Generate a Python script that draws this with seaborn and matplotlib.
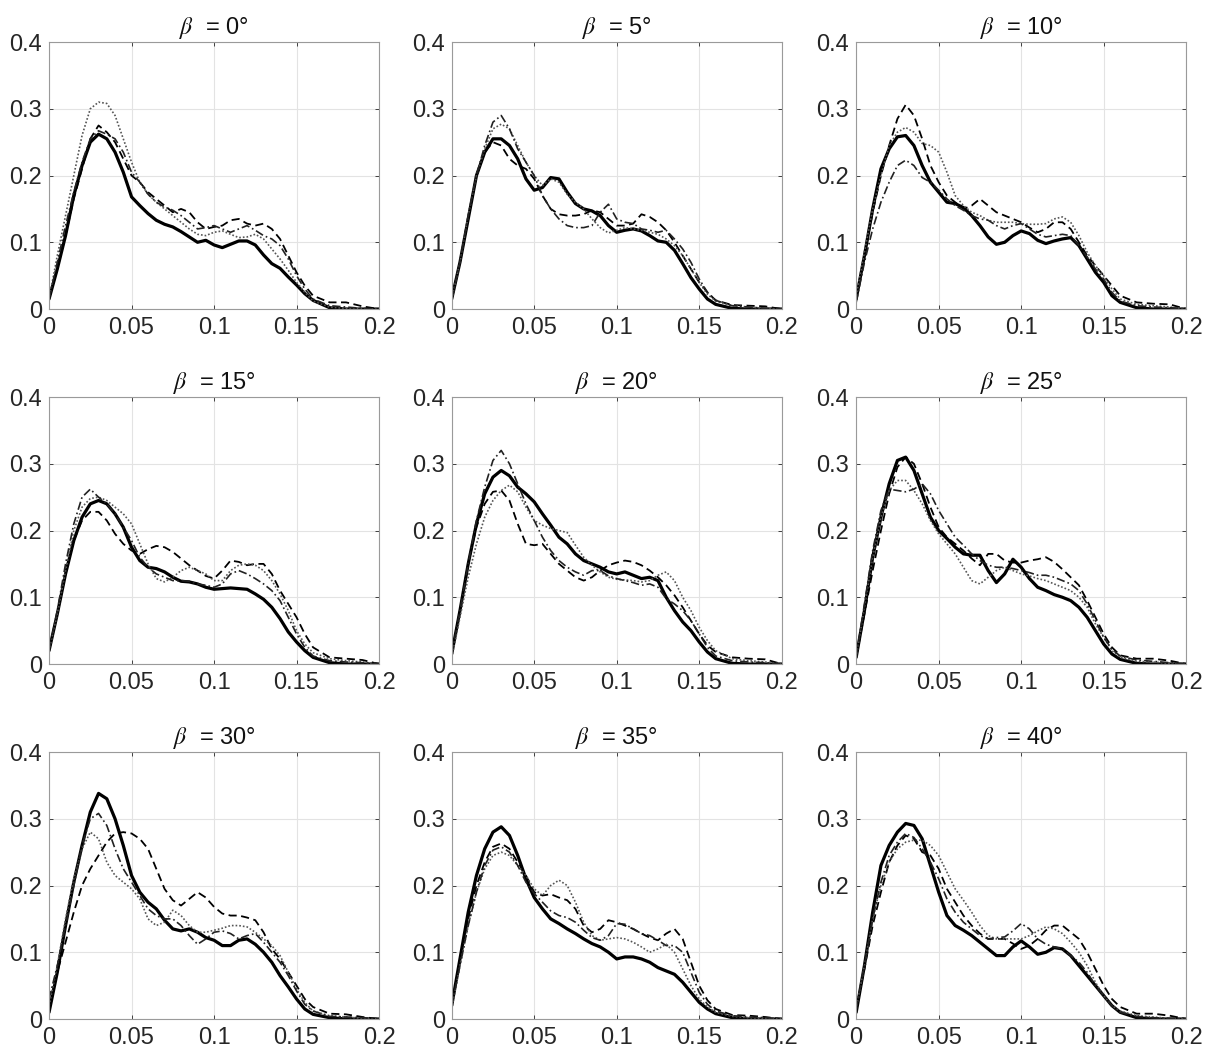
import numpy as np
import pandas as pd
import matplotlib
matplotlib.use("Agg")
import matplotlib.pyplot as plt
import seaborn as sns

# eixo x comum a todas as curvas
x = [0.0, 0.005, 0.01, 0.015, 0.02, 0.025, 0.03, 0.035, 0.04, 0.045,
     0.05, 0.055, 0.06, 0.065, 0.07, 0.075, 0.08, 0.085, 0.09, 0.095,
     0.1, 0.105, 0.11, 0.115, 0.12, 0.125, 0.13, 0.135, 0.14, 0.145,
     0.15, 0.155, 0.16, 0.17, 0.18, 0.19, 0.2]

angulos = [0, 5, 10, 15, 20, 25, 30, 35, 40]

# beta = 0
b0_solid = [0.015, 0.06, 0.11, 0.17, 0.215, 0.25, 0.262, 0.255, 0.235, 0.205, 0.168, 0.155, 0.143, 0.133, 0.127, 0.123, 0.116, 0.108, 0.100, 0.103, 0.096, 0.092, 0.097, 0.102, 0.102, 0.096, 0.081, 0.068, 0.061, 0.048, 0.036, 0.023, 0.013, 0.002, 0.0, 0.0, 0.0]
b0_dash = [0.015, 0.06, 0.11, 0.165, 0.21, 0.255, 0.275, 0.265, 0.25, 0.225, 0.2, 0.19, 0.175, 0.165, 0.155, 0.145, 0.15, 0.145, 0.13, 0.12, 0.123, 0.125, 0.133, 0.135, 0.128, 0.125, 0.128, 0.12, 0.105, 0.08, 0.055, 0.035, 0.02, 0.01, 0.01, 0.004, 0.0]
b0_dot = [0.015, 0.08, 0.14, 0.2, 0.26, 0.3, 0.31, 0.308, 0.29, 0.255, 0.22, 0.19, 0.172, 0.16, 0.15, 0.14, 0.13, 0.12, 0.112, 0.11, 0.115, 0.117, 0.112, 0.107, 0.108, 0.112, 0.105, 0.09, 0.075, 0.058, 0.04, 0.025, 0.012, 0.003, 0.001, 0.0, 0.0]
b0_dashdot = [0.015, 0.07, 0.125, 0.175, 0.22, 0.255, 0.267, 0.262, 0.255, 0.235, 0.205, 0.19, 0.172, 0.16, 0.153, 0.148, 0.14, 0.13, 0.12, 0.122, 0.125, 0.12, 0.115, 0.12, 0.125, 0.118, 0.11, 0.105, 0.095, 0.075, 0.05, 0.03, 0.015, 0.005, 0.003, 0.001, 0.0]

# beta = 5
b5_solid = [0.015, 0.07, 0.135, 0.2, 0.235, 0.255, 0.255, 0.245, 0.225, 0.195, 0.178, 0.182, 0.197, 0.195, 0.175, 0.158, 0.15, 0.147, 0.14, 0.125, 0.115, 0.118, 0.12, 0.117, 0.11, 0.102, 0.1, 0.088, 0.068, 0.047, 0.03, 0.015, 0.007, 0.001, 0.0, 0.0, 0.0]
b5_dash = [0.015, 0.07, 0.135, 0.2, 0.235, 0.25, 0.245, 0.225, 0.215, 0.21, 0.195, 0.17, 0.15, 0.142, 0.14, 0.14, 0.142, 0.148, 0.145, 0.135, 0.125, 0.125, 0.128, 0.142, 0.138, 0.13, 0.118, 0.1, 0.08, 0.06, 0.04, 0.025, 0.013, 0.006, 0.005, 0.004, 0.0]
b5_dot = [0.015, 0.07, 0.14, 0.2, 0.24, 0.27, 0.277, 0.27, 0.245, 0.22, 0.2, 0.185, 0.195, 0.19, 0.172, 0.16, 0.15, 0.135, 0.122, 0.114, 0.118, 0.122, 0.12, 0.118, 0.115, 0.112, 0.105, 0.095, 0.08, 0.06, 0.04, 0.022, 0.012, 0.005, 0.003, 0.001, 0.0]
b5_dashdot = [0.015, 0.07, 0.14, 0.2, 0.245, 0.28, 0.29, 0.27, 0.24, 0.22, 0.2, 0.17, 0.15, 0.135, 0.125, 0.122, 0.122, 0.125, 0.145, 0.157, 0.135, 0.13, 0.128, 0.12, 0.118, 0.115, 0.118, 0.105, 0.09, 0.07, 0.045, 0.025, 0.013, 0.005, 0.003, 0.001, 0.0]

# beta = 10
b10_solid = [0.015, 0.08, 0.15, 0.21, 0.24, 0.258, 0.26, 0.245, 0.215, 0.19, 0.175, 0.16, 0.158, 0.152, 0.14, 0.125, 0.108, 0.097, 0.1, 0.11, 0.117, 0.113, 0.103, 0.098, 0.102, 0.105, 0.107, 0.095, 0.075, 0.055, 0.04, 0.02, 0.01, 0.002, 0.0, 0.0, 0.0]
b10_dash = [0.02, 0.08, 0.145, 0.2, 0.245, 0.285, 0.306, 0.29, 0.255, 0.215, 0.19, 0.17, 0.16, 0.15, 0.155, 0.165, 0.155, 0.145, 0.14, 0.135, 0.13, 0.122, 0.115, 0.12, 0.13, 0.13, 0.12, 0.1, 0.08, 0.065, 0.05, 0.035, 0.02, 0.01, 0.008, 0.007, 0.0]
b10_dot = [0.02, 0.085, 0.15, 0.2, 0.245, 0.265, 0.272, 0.265, 0.248, 0.245, 0.235, 0.205, 0.17, 0.155, 0.145, 0.14, 0.133, 0.13, 0.13, 0.13, 0.128, 0.127, 0.127, 0.128, 0.135, 0.138, 0.13, 0.11, 0.085, 0.065, 0.05, 0.03, 0.015, 0.007, 0.005, 0.003, 0.0]
b10_dashdot = [0.01, 0.07, 0.12, 0.16, 0.19, 0.215, 0.223, 0.215, 0.197, 0.19, 0.178, 0.165, 0.155, 0.148, 0.14, 0.135, 0.133, 0.125, 0.12, 0.125, 0.128, 0.12, 0.112, 0.108, 0.11, 0.112, 0.11, 0.095, 0.078, 0.06, 0.045, 0.025, 0.012, 0.005, 0.003, 0.002, 0.0]

# beta = 15
b15_solid = [0.02, 0.075, 0.135, 0.185, 0.22, 0.24, 0.245, 0.24, 0.225, 0.205, 0.175, 0.155, 0.145, 0.143, 0.138, 0.13, 0.124, 0.123, 0.12, 0.115, 0.112, 0.113, 0.114, 0.113, 0.112, 0.105, 0.097, 0.085, 0.068, 0.048, 0.033, 0.02, 0.01, 0.002, 0.0, 0.0, 0.0]
b15_dash = [0.02, 0.075, 0.135, 0.185, 0.215, 0.228, 0.228, 0.215, 0.195, 0.18, 0.17, 0.165, 0.172, 0.177, 0.175, 0.168, 0.158, 0.148, 0.14, 0.132, 0.128, 0.14, 0.155, 0.153, 0.148, 0.15, 0.15, 0.135, 0.11, 0.09, 0.07, 0.045, 0.025, 0.01, 0.008, 0.006, 0.0]
b15_dot = [0.02, 0.075, 0.14, 0.2, 0.235, 0.248, 0.25, 0.245, 0.235, 0.225, 0.21, 0.18, 0.15, 0.128, 0.123, 0.13, 0.14, 0.145, 0.14, 0.135, 0.125, 0.125, 0.14, 0.148, 0.15, 0.148, 0.14, 0.125, 0.105, 0.08, 0.05, 0.03, 0.017, 0.008, 0.005, 0.003, 0.0]
b15_dashdot = [0.02, 0.08, 0.15, 0.21, 0.25, 0.262, 0.25, 0.24, 0.225, 0.205, 0.185, 0.16, 0.145, 0.135, 0.13, 0.125, 0.125, 0.124, 0.12, 0.118, 0.115, 0.12, 0.135, 0.14, 0.135, 0.128, 0.12, 0.11, 0.095, 0.07, 0.045, 0.025, 0.012, 0.005, 0.003, 0.002, 0.0]

# beta = 20
b20_solid = [0.015, 0.08, 0.15, 0.21, 0.255, 0.28, 0.29, 0.282, 0.265, 0.255, 0.243, 0.225, 0.208, 0.19, 0.18, 0.165, 0.155, 0.15, 0.145, 0.138, 0.135, 0.138, 0.133, 0.128, 0.13, 0.125, 0.1, 0.08, 0.063, 0.05, 0.033, 0.018, 0.008, 0.001, 0.0, 0.0, 0.0]
b20_dash = [0.015, 0.08, 0.15, 0.205, 0.24, 0.258, 0.26, 0.245, 0.21, 0.18, 0.178, 0.18, 0.165, 0.15, 0.14, 0.13, 0.125, 0.13, 0.14, 0.148, 0.152, 0.155, 0.153, 0.148, 0.14, 0.13, 0.118, 0.103, 0.085, 0.065, 0.045, 0.028, 0.018, 0.01, 0.008, 0.007, 0.0]
b20_dot = [0.01, 0.07, 0.13, 0.18, 0.22, 0.245, 0.26, 0.268, 0.258, 0.235, 0.215, 0.208, 0.203, 0.2, 0.197, 0.178, 0.16, 0.148, 0.138, 0.13, 0.127, 0.126, 0.125, 0.123, 0.125, 0.133, 0.138, 0.125, 0.1, 0.08, 0.055, 0.035, 0.02, 0.008, 0.005, 0.003, 0.0]
b20_dashdot = [0.015, 0.08, 0.15, 0.215, 0.265, 0.305, 0.32, 0.3, 0.27, 0.24, 0.215, 0.19, 0.17, 0.155, 0.145, 0.138, 0.133, 0.14, 0.14, 0.132, 0.128, 0.125, 0.122, 0.118, 0.12, 0.115, 0.098, 0.09, 0.08, 0.065, 0.045, 0.025, 0.012, 0.005, 0.003, 0.002, 0.0]

# beta = 25
b25_solid = [0.01, 0.08, 0.16, 0.22, 0.27, 0.305, 0.31, 0.29, 0.255, 0.22, 0.2, 0.188, 0.175, 0.165, 0.163, 0.163, 0.14, 0.122, 0.135, 0.157, 0.145, 0.128, 0.115, 0.11, 0.104, 0.1, 0.095, 0.085, 0.07, 0.05, 0.03, 0.015, 0.007, 0.001, 0.0, 0.0, 0.0]
b25_dash = [0.01, 0.075, 0.14, 0.2, 0.255, 0.295, 0.31, 0.3, 0.27, 0.235, 0.205, 0.19, 0.18, 0.17, 0.158, 0.148, 0.165, 0.165, 0.155, 0.152, 0.152, 0.155, 0.157, 0.16, 0.153, 0.142, 0.13, 0.118, 0.095, 0.07, 0.045, 0.025, 0.013, 0.008, 0.008, 0.005, 0.0]
b25_dot = [0.01, 0.085, 0.16, 0.22, 0.26, 0.275, 0.275, 0.26, 0.24, 0.215, 0.195, 0.18, 0.165, 0.145, 0.125, 0.12, 0.13, 0.14, 0.145, 0.14, 0.135, 0.132, 0.128, 0.125, 0.12, 0.115, 0.11, 0.1, 0.085, 0.06, 0.04, 0.02, 0.01, 0.004, 0.003, 0.001, 0.0]
b25_dashdot = [0.01, 0.09, 0.17, 0.23, 0.262, 0.26, 0.258, 0.262, 0.27, 0.255, 0.23, 0.21, 0.19, 0.178, 0.165, 0.155, 0.148, 0.145, 0.145, 0.143, 0.14, 0.137, 0.133, 0.133, 0.13, 0.125, 0.12, 0.11, 0.09, 0.065, 0.04, 0.022, 0.012, 0.006, 0.004, 0.002, 0.0]

# beta = 30
b30_solid = [0.01, 0.07, 0.14, 0.205, 0.26, 0.31, 0.338, 0.33, 0.3, 0.26, 0.215, 0.19, 0.175, 0.165, 0.148, 0.135, 0.132, 0.135, 0.13, 0.122, 0.118, 0.11, 0.11, 0.118, 0.12, 0.112, 0.1, 0.085, 0.065, 0.048, 0.03, 0.015, 0.007, 0.002, 0.0, 0.0, 0.0]
b30_dash = [0.02, 0.07, 0.115, 0.16, 0.2, 0.225, 0.245, 0.265, 0.278, 0.28, 0.278, 0.27, 0.255, 0.225, 0.195, 0.178, 0.17, 0.18, 0.19, 0.182, 0.168, 0.158, 0.155, 0.155, 0.152, 0.148, 0.13, 0.105, 0.09, 0.07, 0.05, 0.03, 0.018, 0.008, 0.007, 0.003, 0.0]
b30_dot = [0.02, 0.08, 0.15, 0.21, 0.255, 0.28, 0.27, 0.235, 0.215, 0.205, 0.195, 0.18, 0.15, 0.14, 0.145, 0.163, 0.155, 0.14, 0.13, 0.13, 0.133, 0.136, 0.14, 0.14, 0.138, 0.13, 0.12, 0.11, 0.095, 0.07, 0.045, 0.025, 0.012, 0.005, 0.003, 0.001, 0.0]
b30_dashdot = [0.03, 0.08, 0.14, 0.2, 0.26, 0.3, 0.308, 0.29, 0.255, 0.225, 0.205, 0.185, 0.165, 0.155, 0.15, 0.15, 0.14, 0.125, 0.112, 0.12, 0.13, 0.132, 0.128, 0.12, 0.125, 0.128, 0.115, 0.1, 0.085, 0.065, 0.042, 0.022, 0.012, 0.004, 0.003, 0.002, 0.0]

# beta = 35
b35_solid = [0.02, 0.09, 0.16, 0.215, 0.255, 0.28, 0.288, 0.275, 0.245, 0.21, 0.182, 0.165, 0.15, 0.143, 0.135, 0.128, 0.12, 0.113, 0.108, 0.1, 0.09, 0.093, 0.093, 0.09, 0.085, 0.077, 0.072, 0.067, 0.055, 0.04, 0.025, 0.015, 0.008, 0.002, 0.0, 0.0, 0.0]
b35_dash = [0.02, 0.085, 0.15, 0.2, 0.235, 0.258, 0.263, 0.255, 0.235, 0.215, 0.19, 0.185, 0.187, 0.182, 0.178, 0.165, 0.14, 0.13, 0.135, 0.148, 0.145, 0.14, 0.135, 0.128, 0.122, 0.118, 0.128, 0.135, 0.12, 0.085, 0.05, 0.028, 0.015, 0.006, 0.005, 0.003, 0.0]
b35_dot = [0.015, 0.08, 0.14, 0.19, 0.225, 0.245, 0.25, 0.245, 0.23, 0.215, 0.195, 0.185, 0.2, 0.208, 0.2, 0.175, 0.145, 0.125, 0.118, 0.12, 0.122, 0.12, 0.115, 0.108, 0.1, 0.105, 0.112, 0.1, 0.075, 0.05, 0.03, 0.018, 0.01, 0.004, 0.002, 0.001, 0.0]
b35_dashdot = [0.02, 0.08, 0.14, 0.19, 0.23, 0.253, 0.258, 0.25, 0.23, 0.205, 0.188, 0.175, 0.162, 0.155, 0.152, 0.145, 0.133, 0.122, 0.118, 0.125, 0.143, 0.142, 0.135, 0.128, 0.125, 0.118, 0.11, 0.11, 0.1, 0.07, 0.04, 0.022, 0.012, 0.005, 0.003, 0.002, 0.0]

# beta = 40
b40_solid = [0.01, 0.08, 0.16, 0.23, 0.26, 0.28, 0.293, 0.29, 0.27, 0.23, 0.19, 0.155, 0.14, 0.133, 0.125, 0.115, 0.105, 0.095, 0.095, 0.108, 0.117, 0.108, 0.097, 0.1, 0.107, 0.105, 0.095, 0.08, 0.065, 0.05, 0.035, 0.02, 0.01, 0.002, 0.0, 0.0, 0.0]
b40_dash = [0.015, 0.075, 0.14, 0.19, 0.235, 0.26, 0.275, 0.27, 0.25, 0.245, 0.225, 0.195, 0.175, 0.155, 0.14, 0.128, 0.12, 0.12, 0.12, 0.113, 0.105, 0.11, 0.12, 0.133, 0.14, 0.14, 0.13, 0.12, 0.1, 0.075, 0.05, 0.03, 0.018, 0.008, 0.008, 0.005, 0.0]
b40_dot = [0.015, 0.08, 0.15, 0.2, 0.235, 0.255, 0.265, 0.268, 0.268, 0.26, 0.245, 0.22, 0.195, 0.178, 0.16, 0.14, 0.125, 0.12, 0.12, 0.12, 0.12, 0.125, 0.132, 0.138, 0.135, 0.128, 0.115, 0.1, 0.08, 0.055, 0.035, 0.02, 0.012, 0.005, 0.003, 0.001, 0.0]
b40_dashdot = [0.015, 0.08, 0.15, 0.205, 0.245, 0.265, 0.278, 0.272, 0.255, 0.235, 0.21, 0.18, 0.16, 0.145, 0.135, 0.125, 0.12, 0.122, 0.123, 0.132, 0.143, 0.135, 0.12, 0.112, 0.108, 0.105, 0.095, 0.085, 0.07, 0.05, 0.035, 0.02, 0.01, 0.004, 0.002, 0.001, 0.0]

curvas = {
    0: [b0_solid, b0_dash, b0_dot, b0_dashdot],
    5: [b5_solid, b5_dash, b5_dot, b5_dashdot],
    10: [b10_solid, b10_dash, b10_dot, b10_dashdot],
    15: [b15_solid, b15_dash, b15_dot, b15_dashdot],
    20: [b20_solid, b20_dash, b20_dot, b20_dashdot],
    25: [b25_solid, b25_dash, b25_dot, b25_dashdot],
    30: [b30_solid, b30_dash, b30_dot, b30_dashdot],
    35: [b35_solid, b35_dash, b35_dot, b35_dashdot],
    40: [b40_solid, b40_dash, b40_dot, b40_dashdot],
}

estilos = [
    dict(linestyle='-', linewidth=2.3, color='black'),
    dict(linestyle=(0, (4.5, 2.5)), linewidth=1.3, color='black'),
    dict(linestyle=(0, (1, 1.2)), linewidth=1.2, color='#555555'),
    dict(linestyle=(0, (5, 1.8, 1, 1.8)), linewidth=1.2, color='#222222'),
]

sns.set_theme(style="whitegrid")
plt.rcParams['font.family'] = ['Liberation Sans', 'DejaVu Sans']
plt.rcParams['mathtext.fontset'] = 'stix'

fig = plt.figure(figsize=(12.11, 10.54), dpi=100)
lefts = [0.0405, 0.373, 0.707]
bottoms = [0.7068, 0.370, 0.0332]
w, h = 0.2725, 0.2533

for i, ang in enumerate(angulos):
    r, c = divmod(i, 3)
    ax = fig.add_axes([lefts[c], bottoms[r], w, h])
    for y, st in zip(curvas[ang], estilos):
        sns.lineplot(x=x, y=y, ax=ax, legend=False, **st)
    ax.set_xlim(0, 0.2)
    ax.set_ylim(0, 0.4)
    ax.set_xticks([0, 0.05, 0.1, 0.15, 0.2])
    ax.set_xticklabels(['0', '0.05', '0.1', '0.15', '0.2'])
    ax.set_yticks([0, 0.1, 0.2, 0.3, 0.4])
    ax.set_yticklabels(['0', '0.1', '0.2', '0.3', '0.4'])
    ax.tick_params(axis='both', labelsize=17, colors='#262626', direction='in',
                   length=3, width=0.6, bottom=True, left=True, top=True, right=True,
                   labeltop=False, labelright=False)
    ax.tick_params(axis='x', pad=6)
    ax.tick_params(axis='y', pad=5)
    ax.grid(True, color='#e3e3e3', linewidth=0.8)
    ax.set_facecolor('white')
    for sp in ax.spines.values():
        sp.set_color('#9a9a9a')
        sp.set_linewidth(0.8)
    ax.set_xlabel('')
    ax.set_ylabel('')
    ax.set_title(r'$\beta$  = ' + f'{ang}°', fontsize=17, color='#111111', pad=6)

fig.savefig('out.png', dpi=100, facecolor='white')
